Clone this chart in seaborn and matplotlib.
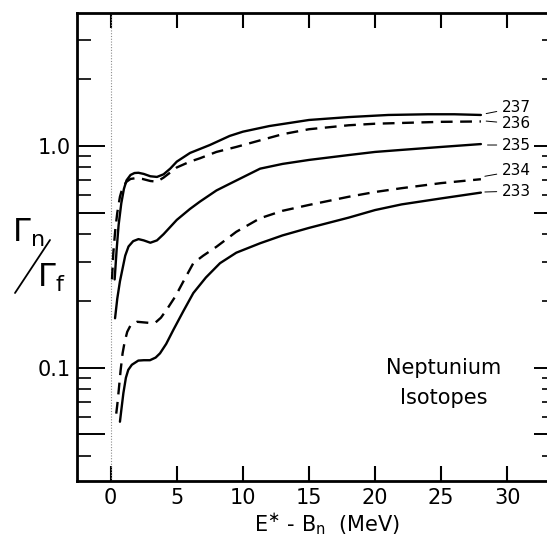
import numpy as np
import pandas as pd
import seaborn as sns
import matplotlib
matplotlib.use("Agg")
import matplotlib.pyplot as plt
from matplotlib.ticker import FixedLocator, FuncFormatter, NullFormatter
from matplotlib.lines import Line2D

# Gamma_n / Gamma_f versus excitation energy above neutron binding, Np isotopes
x_237 = [0.3, 0.45, 0.6, 0.8, 1.0, 1.2, 1.5, 1.8, 2.1, 2.5, 3.0, 3.5, 4.0, 4.5, 5.0,
         6.0, 7.5, 9, 10, 12, 15, 18, 21, 24, 26, 28]
y_237 = [0.25, 0.34, 0.44, 0.55, 0.64, 0.70, 0.74, 0.755, 0.757, 0.748, 0.73, 0.725,
         0.745, 0.79, 0.85, 0.93, 1.01, 1.11, 1.16, 1.23, 1.31, 1.35, 1.38, 1.39, 1.39, 1.38]

x_236 = [0.1, 0.2, 0.35, 0.5, 0.7, 0.9, 1.2, 1.5, 1.9, 2.4, 3.0, 3.5, 4.0, 5.0, 6.0,
         6.75, 8, 9.5, 11.3, 13, 15, 18, 20, 22, 25, 28]
y_236 = [0.25, 0.33, 0.42, 0.50, 0.59, 0.65, 0.69, 0.71, 0.716, 0.71, 0.695, 0.69,
         0.72, 0.80, 0.85, 0.88, 0.94, 0.99, 1.06, 1.13, 1.19, 1.24, 1.26, 1.27, 1.285, 1.29]

x_235 = [0.33, 0.5, 0.7, 0.9, 1.1, 1.35, 1.7, 2.1, 2.5, 3.0, 3.5, 4.0, 5.0, 6.0, 6.75,
         8.0, 9.0, 11.3, 13, 15, 18, 20, 22, 25, 28]
y_235 = [0.167, 0.205, 0.245, 0.28, 0.32, 0.352, 0.372, 0.38, 0.375, 0.366, 0.375, 0.40,
         0.464, 0.52, 0.561, 0.63, 0.675, 0.79, 0.83, 0.865, 0.91, 0.94, 0.96, 0.99, 1.02]

x_234 = [0.42, 0.5, 0.6, 0.75, 0.9, 1.05, 1.25, 1.5, 2.0, 2.5, 3.0, 3.4, 3.8, 4.3, 4.9,
         5.5, 6.25, 7, 8, 9.5, 11.3, 13, 15, 18, 20, 22, 25, 28]
y_234 = [0.062, 0.068, 0.078, 0.097, 0.116, 0.13, 0.145, 0.155, 0.161, 0.16, 0.159, 0.16,
         0.168, 0.185, 0.21, 0.245, 0.296, 0.32, 0.351, 0.41, 0.472, 0.51, 0.542, 0.59,
         0.62, 0.645, 0.68, 0.708]

x_233 = [0.7, 0.8, 0.96, 1.15, 1.33, 1.6, 2.09, 2.5, 2.97, 3.4, 3.73, 4.2, 4.74, 5.5,
         6.25, 7.2, 8.27, 9.5, 11.3, 13, 15, 18, 20, 22, 25, 28]
y_233 = [0.057, 0.064, 0.0767, 0.09, 0.0977, 0.103, 0.1076, 0.108, 0.108, 0.111, 0.116,
         0.128, 0.148, 0.18, 0.217, 0.255, 0.296, 0.33, 0.364, 0.395, 0.427, 0.475, 0.514,
         0.545, 0.58, 0.616]

isotopes = ["237", "236", "235", "234", "233"]
dashed = {"237": False, "236": True, "235": False, "234": True, "233": False}
# label text position (y) and leader-line start (x, y) at the right end of each curve
label_y = {"237": 1.49, "236": 1.258, "235": 1.01, "234": 0.774, "233": 0.626}
lead_xy = {"237": (28.4, 1.40), "236": (28.4, 1.295), "235": (28.5, 1.01),
           "234": (28.3, 0.73), "233": (28.3, 0.62)}

x_ticks = [0, 5, 10, 15, 20, 25, 30]
y_major = [0.05, 0.1, 0.5, 1.0]
y_minor = [0.04, 0.06, 0.07, 0.08, 0.09, 0.2, 0.3, 0.4, 0.6, 0.7, 0.8, 0.9, 2, 3]
y_labelled = {0.1: "0.1", 1.0: "1.0"}

frames = []
for iso, xs, ys in [("237", x_237, y_237), ("236", x_236, y_236), ("235", x_235, y_235),
                    ("234", x_234, y_234), ("233", x_233, y_233)]:
    frames.append(pd.DataFrame({"E": xs, "ratio": ys, "isotope": iso}))
df = pd.concat(frames, ignore_index=True)

sns.set_style("ticks")
plt.rcParams["font.family"] = ["DejaVu Sans"]
plt.rcParams["mathtext.fontset"] = "dejavusans"
for key in ["text.color", "axes.labelcolor", "xtick.color", "ytick.color", "axes.edgecolor"]:
    plt.rcParams[key] = "black"

fig = plt.figure(figsize=(5.47, 5.46), dpi=100)
W, H = 547.0, 546.0
left_px, right_px, top_px, bot_px = 76.7, 549.0, 13.0, 481.0
ax = fig.add_axes([left_px / W, 1 - bot_px / H, (right_px - left_px) / W, (bot_px - top_px) / H])

ax.axvline(0, color="0.55", lw=0.8, ls=(0, (1, 1.5)), zorder=1)

for iso in isotopes:
    sub = df[df["isotope"] == iso]
    ls = (0, (5, 3.2)) if dashed[iso] else "-"
    sns.lineplot(data=sub, x="E", y="ratio", ax=ax, color="black", lw=1.7,
                 linestyle=ls, sort=False, estimator=None, legend=False)

ax.set_yscale("log")
ax.set_xlim(-2.57, 33.15)
ax.set_ylim(0.0308, 3.98)

ax.xaxis.set_major_locator(FixedLocator(x_ticks))
ax.yaxis.set_major_locator(FixedLocator(y_major))
ax.yaxis.set_minor_locator(FixedLocator(y_minor))
ax.yaxis.set_major_formatter(FuncFormatter(lambda v, p: y_labelled.get(round(v, 3), "")))
ax.yaxis.set_minor_formatter(NullFormatter())

for s in ax.spines.values():
    s.set_linewidth(2.0)
    s.set_color("black")

ax.tick_params(axis="x", which="major", direction="in", length=11, width=1.5,
               top=True, bottom=True, labelsize=15, pad=5, colors="black")
ax.tick_params(axis="y", which="major", direction="in", length=20, width=1.4,
               left=True, right=False, labelsize=15, pad=4, colors="black")
ax.tick_params(axis="y", which="minor", direction="in", length=10, width=1.2,
               left=True, right=False, colors="black")

# right-hand scale with shorter ticks
axr = ax.twinx()
axr.set_yscale("log")
axr.set_ylim(ax.get_ylim())
axr.yaxis.set_major_locator(FixedLocator(y_major))
axr.yaxis.set_minor_locator(FixedLocator(y_minor))
axr.yaxis.set_major_formatter(NullFormatter())
axr.yaxis.set_minor_formatter(NullFormatter())
axr.tick_params(axis="y", which="major", direction="in", length=11, width=1.4, colors="black")
axr.tick_params(axis="y", which="minor", direction="in", length=5, width=1.2, colors="black")
for s in axr.spines.values():
    s.set_visible(False)

ax.set_xlabel(r"E$^{\ast}$ - B$_{\mathrm{n}}$  (MeV)", fontsize=15, color="black")
ax.xaxis.set_label_coords((327 - left_px) / (right_px - left_px), -0.065)
ax.set_ylabel("")

for iso in isotopes:
    ax.annotate(iso, xy=lead_xy[iso], xytext=(29.6, label_y[iso]), fontsize=11,
                ha="left", va="center", color="black",
                arrowprops=dict(arrowstyle="-", lw=0.7, color="black",
                                shrinkA=1.5, shrinkB=0))

ax.text(25.2, 0.1, "Neptunium", fontsize=15, ha="center", va="center", color="black")
ax.text(25.2, 0.073, "Isotopes", fontsize=15, ha="center", va="center", color="black")

# Gamma_n / Gamma_f written as a slanted fraction
fig.text(28 / W, 1 - 233 / H, r"$\Gamma_{\mathrm{n}}$", fontsize=23, ha="center", va="center",
         color="black")
fig.text(51 / W, 1 - 278 / H, r"$\Gamma_{\mathrm{f}}$", fontsize=23, ha="center", va="center",
         color="black")
fig.add_artist(Line2D([15 / W, 50 / W], [1 - 293 / H, 1 - 240 / H], color="black", lw=1.3,
                      transform=fig.transFigure))

fig.savefig("out.png", dpi=100)
